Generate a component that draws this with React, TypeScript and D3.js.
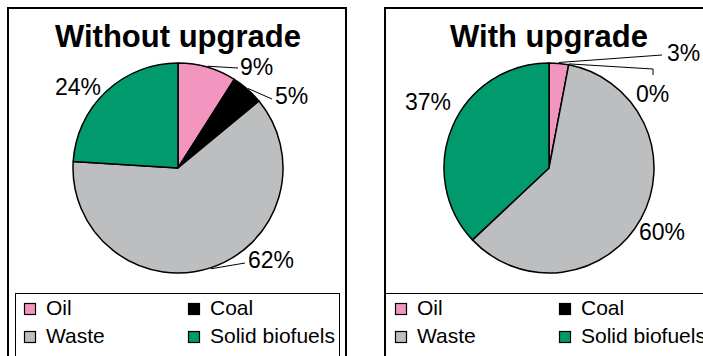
import React from "react";
import * as d3 from "d3";

const categories = ["Oil", "Coal", "Waste", "Solid biofuels"];
const withoutUpgrade = [9, 5, 62, 24];
const withUpgrade = [3, 0, 60, 37];
const titles = ["Without upgrade", "With upgrade"];
const colors = ["#F296C0", "#000000", "#BCBEC0", "#009A6C"];

const FONT = "'Liberation Sans', Arial, Helvetica, sans-serif";
const R = 105;

type LabelLayout = { tx: number; ty: number; leader?: [number, number][] };

const panels = [
  {
    title: titles[0],
    values: withoutUpgrade,
    cx: 178,
    cy: 168,
    border: { x: 8, y: 8, w: 338, h: 400 },
    legendBox: { x: 15.5, y: 293.5, w: 324, h: 100 },
    legendX: 24,
    labels: [
      { tx: 62, ty: -93, leader: [[60, -100]] },
      { tx: 97, ty: -64, leader: [[94, -69]] },
      { tx: 70, ty: 100, leader: [[67, 95]] },
      { tx: -123, ty: -73 },
    ] as LabelLayout[],
  },
  {
    title: titles[1],
    values: withUpgrade,
    cx: 549,
    cy: 168,
    border: { x: 385, y: 8, w: 400, h: 400 },
    legendBox: { x: 385, y: 293.5, w: 400, h: 100 },
    legendX: 395,
    labels: [
      { tx: 118, ty: -107, leader: [[113, -113]] },
      { tx: 87, ty: -66, leader: [[104, -99], [104, -93]] },
      { tx: 90, ty: 72 },
      { tx: -144, ty: -58 },
    ] as LabelLayout[],
  },
];

function Panel({ p }: { p: (typeof panels)[number] }) {
  const pie = d3
    .pie<number>()
    .sort(null)
    .value((d) => d)
    .startAngle(0)
    .endAngle(2 * Math.PI);
  const arcs = pie(p.values);
  const arc = d3.arc<d3.PieArcDatum<number>>().innerRadius(0).outerRadius(R);
  const line = d3.line();

  return (
    <g>
      <rect
        x={p.border.x}
        y={p.border.y}
        width={p.border.w}
        height={p.border.h}
        fill="#fff"
        stroke="#000"
        strokeWidth={2}
      />
      <text
        x={p.cx}
        y={47}
        textAnchor="middle"
        fontFamily={FONT}
        fontWeight="bold"
        fontSize={31}
        fill="#000"
      >
        {p.title}
      </text>
      <g transform={`translate(${p.cx},${p.cy})`}>
        {arcs.map((a, i) =>
          a.value > 0 ? (
            <path
              key={i}
              d={arc(a) || ""}
              fill={colors[i]}
              stroke="#000"
              strokeWidth={1.5}
              strokeLinejoin="round"
            />
          ) : null
        )}
        {arcs.map((a, i) => {
          const lab = p.labels[i];
          const mid = (a.startAngle + a.endAngle) / 2;
          const sx = Math.sin(mid) * (R + 1);
          const sy = -Math.cos(mid) * (R + 1);
          return (
            <g key={"l" + i}>
              {lab.leader && (
                <path
                  d={line([[sx, sy], ...lab.leader]) || ""}
                  fill="none"
                  stroke="#000"
                  strokeWidth={1}
                />
              )}
              <text
                x={lab.tx}
                y={lab.ty}
                fontFamily={FONT}
                fontSize={23}
                fill="#000"
              >
                {`${p.values[i]}%`}
              </text>
            </g>
          );
        })}
      </g>
      <rect
        x={p.legendBox.x}
        y={p.legendBox.y}
        width={p.legendBox.w}
        height={p.legendBox.h}
        fill="none"
        stroke="#000"
        strokeWidth={1}
      />
      {categories.map((c, i) => {
        const col = i % 2;
        const row = Math.floor(i / 2);
        const x = p.legendX + col * 164;
        const y = 303 + row * 28;
        return (
          <g key={"lg" + i}>
            <rect
              x={x + 0.5}
              y={y + 0.5}
              width={11}
              height={11}
              fill={colors[i]}
              stroke="#000"
              strokeWidth={1.2}
            />
            <text
              x={x + 22}
              y={y + 12}
              fontFamily={FONT}
              fontSize={21}
              fill="#000"
            >
              {c}
            </text>
          </g>
        );
      })}
    </g>
  );
}

export default function App() {
  return (
    <svg
      width={703}
      height={356}
      style={{ position: "absolute", left: 0, top: 0, background: "#fff" }}
    >
      <rect width={703} height={356} fill="#fff" />
      {panels.map((p, i) => (
        <Panel key={i} p={p} />
      ))}
    </svg>
  );
}
